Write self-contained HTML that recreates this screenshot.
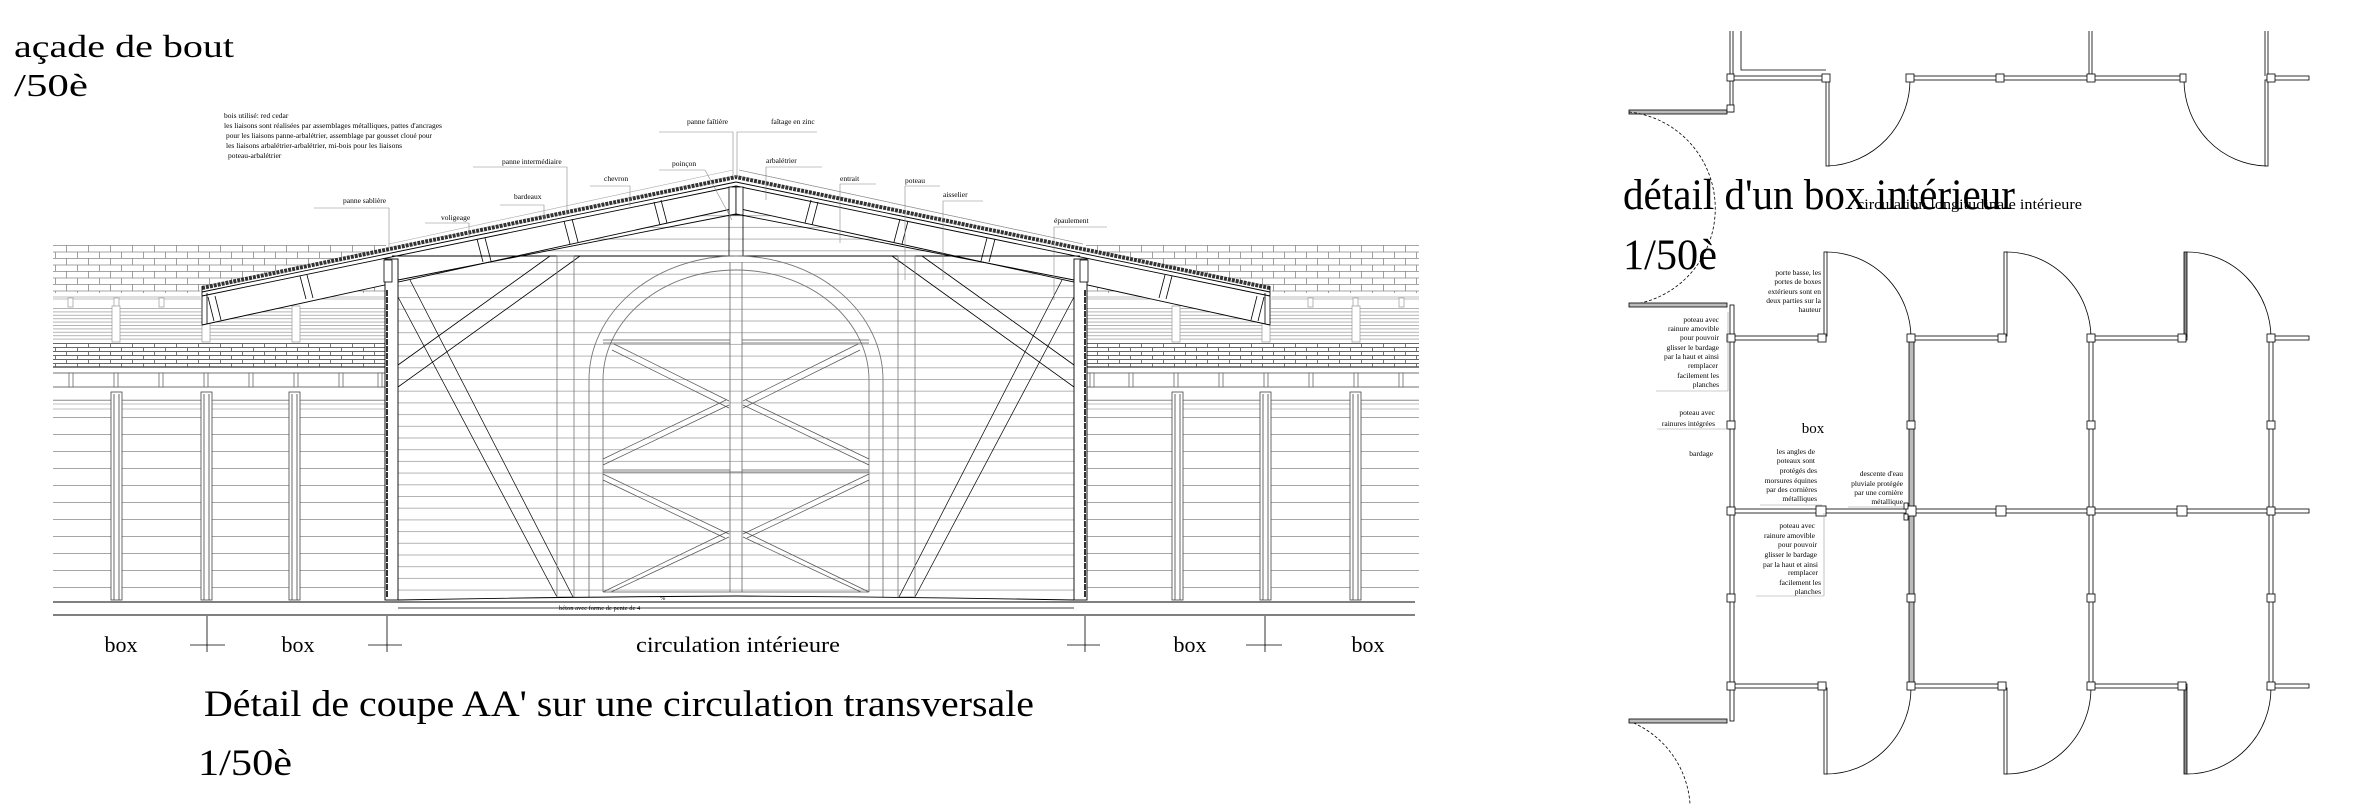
<!DOCTYPE html>
<html><head><meta charset="utf-8"><style>
html,body{margin:0;padding:0;background:#fff;}
svg{display:block;}
text{font-family:"Liberation Serif",serif;fill:#000;}
.t{font-size:7.5px;}
</style></head><body>
<svg width="2359" height="804" viewBox="0 0 2359 804" xmlns="http://www.w3.org/2000/svg">
<defs>
<pattern id="brick" width="22" height="13" patternUnits="userSpaceOnUse" y="245">
<path d="M0 0.5H22M0 7H22M0.5 0V7M11.5 7V13" stroke="#888" stroke-width="0.8" fill="none"/>
</pattern>
<pattern id="brick2" width="22" height="8" patternUnits="userSpaceOnUse" y="343">
<path d="M0 0.5H22M0 4.5H22M0.5 0V4.5M11.5 4.5V8" stroke="#666" stroke-width="0.9" fill="none"/>
</pattern>
<pattern id="sid" width="40" height="11.7" patternUnits="userSpaceOnUse" y="262">
<path d="M0 0.5H40" stroke="#999" stroke-width="0.8"/>
</pattern>
<pattern id="wall" width="40" height="17" patternUnits="userSpaceOnUse" y="400">
<path d="M0 0.5H40" stroke="#888" stroke-width="0.8"/>
</pattern>
<pattern id="band" width="40" height="3.4" patternUnits="userSpaceOnUse" y="308">
<path d="M0 0.5H40" stroke="#999" stroke-width="0.7"/>
</pattern>
<g id="half">
  <!-- side building -->
  <rect x="53" y="245" width="333" height="48" fill="url(#brick)"/>
  <path d="M53 297H386M53 299H386" stroke="#aaa" stroke-width="0.7"/>
  <g fill="#fff" stroke="#999" stroke-width="0.7">
    <rect x="68" y="298" width="5" height="9"/><rect x="114" y="298" width="5" height="9"/><rect x="159" y="298" width="5" height="9"/>
  </g>
  <rect x="53" y="308" width="333" height="34" fill="url(#band)"/>
  <g fill="#fff" stroke="#999" stroke-width="0.7">
    <rect x="112" y="306" width="8" height="36"/><rect x="202" y="306" width="8" height="36"/><rect x="292" y="306" width="8" height="36"/>
  </g>
  <rect x="53" y="343" width="333" height="24" fill="url(#brick2)"/>
  <path d="M53 367H386" stroke="#555" stroke-width="1.5"/>
  <path d="M53 373H386M53 387H386" stroke="#444" stroke-width="0.8"/>
  <g stroke="#555" stroke-width="0.7" fill="#fff">
    <rect x="69" y="373" width="4" height="14"/><rect x="114" y="373" width="4" height="14"/><rect x="159" y="373" width="4" height="14"/><rect x="204" y="373" width="4" height="14"/><rect x="249" y="373" width="4" height="14"/><rect x="294" y="373" width="4" height="14"/><rect x="339" y="373" width="4" height="14"/><rect x="378" y="373" width="4" height="14"/>
  </g>
  <rect x="53" y="396" width="333" height="204" fill="url(#wall)"/>
  <path d="M53 400H386M53 404H386M53 409H386" stroke="#aaa" stroke-width="0.7"/>
  <g fill="#fff" stroke="#444" stroke-width="0.8">
    <rect x="111" y="392" width="11" height="208"/><rect x="201" y="392" width="11" height="208"/><rect x="289" y="392" width="11" height="208"/>
  </g>
  <path d="M114 394V600M119 394V600M204 394V600M209 394V600M292 394V600M297 394V600" stroke="#444" stroke-width="0.8"/>
  <!-- gable siding -->
  <polygon points="398,280 736,208 736,600 398,600" fill="url(#sid)"/>
  <!-- roof -->
  <polygon points="200,287 736,175 736,208 202,325" fill="#fff" stroke="none"/>
  <path d="M202 288L736 177" stroke="#333" stroke-width="4" stroke-dasharray="3 1"/>
  <path d="M202 292L736 182" stroke="#000" stroke-width="0.9"/>
  <path d="M202 296L736 186" stroke="#000" stroke-width="0.9"/>
  <path d="M202 325L736 208" stroke="#000" stroke-width="0.9"/>
  <path d="M202 286V325M207 293V324" stroke="#000" stroke-width="0.8"/>
  <path d="M389 244L733 170" stroke="#aaa" stroke-width="0.6"/>
  <!-- chevrons -->
  <g stroke="#000" stroke-width="0.8" fill="none">
    <path d="M208 297L214 321M215 296L221 320"/>
    <path d="M300 276L306 299M307 275L313 298"/>
    <path d="M477 239L483 262M485 238L491 261"/>
    <path d="M564 221L570 244M572 219L578 242"/>
    <path d="M654 202L660 225M661 200L667 223"/>
  </g>
  <!-- poinçon -->
  <rect x="729" y="187" width="7" height="28" fill="#fff" stroke="#000" stroke-width="0.8"/>
  <path d="M729 215V256" stroke="#000" stroke-width="0.8"/>
  <!-- entrait -->
  <path d="M392 256H736M398 280L736 214" stroke="#000" stroke-width="0.9"/>
  <!-- main post -->
  <rect x="385" y="259" width="13" height="341" fill="#fff" stroke="#000" stroke-width="0.9"/>
  <rect x="384" y="260" width="8" height="22" fill="#fff" stroke="#000" stroke-width="0.8"/>
  <path d="M387 290V598" stroke="#000" stroke-width="1.6" stroke-dasharray="6 1"/>
  <!-- braces -->
  <path d="M398 365L550 256M398 387L580 256" stroke="#000" stroke-width="0.8"/>
  <path d="M398 297L557 597M410 280L573 597" stroke="#000" stroke-width="0.7"/>
  <rect x="557" y="256" width="17" height="341" fill="none" stroke="#777" stroke-width="0.8"/>
  <!-- arch -->
  <path d="M589 597V380A147 124 0 0 1 736 256" fill="none" stroke="#777" stroke-width="0.9"/>
  <path d="M603 592V380A133 110 0 0 1 736 270" fill="none" stroke="#777" stroke-width="0.9"/>
  <path d="M730 262V592" stroke="#777" stroke-width="0.9"/>
  <path d="M603 340H730M603 343H730M603 470H730M603 472H736M603 592H736" stroke="#555" stroke-width="0.8"/>
  <g stroke="#555" stroke-width="0.7">
    <path d="M614 344L729 401M612 350L729 408"/>
    <path d="M603 465L729 405M603 459L726 400"/>
    <path d="M603 474L729 534M603 480L725 538"/>
    <path d="M603 592L729 531M611 592L729 537"/>
  </g>
  <!-- slab -->
  <path d="M398 600Q560 597 736 596" fill="none" stroke="#000" stroke-width="0.9"/>
</g>
</defs>

<!-- titles -->
<text x="14" y="57" font-size="32" textLength="220" lengthAdjust="spacingAndGlyphs">açade de bout</text>
<text x="14" y="96" font-size="32" textLength="74" lengthAdjust="spacingAndGlyphs">/50è</text>

<use href="#half"/>
<use href="#half" transform="translate(1472,0) scale(-1,1)"/>

<!-- ground -->
<path d="M53 602H1415" stroke="#000" stroke-width="1"/>
<path d="M53 615H1415" stroke="#000" stroke-width="1"/>
<path d="M398 608H1074" stroke="#000" stroke-width="0.8"/>
<text x="559" y="610" font-size="6.5">béton avec forme de pente de 4</text>
<text x="660" y="600" font-size="6.5">%</text>

<!-- dimension ticks -->
<g stroke="#000" stroke-width="0.8">
  <path d="M207 616V652M190 645H225"/>
  <path d="M387 616V652M368 645H402"/>
  <path d="M1085 616V652M1067 645H1100"/>
  <path d="M1265 616V652M1246 645H1282"/>
</g>
<g font-size="22" text-anchor="middle">
  <text x="121" y="652">box</text>
  <text x="298" y="652">box</text>
  <text x="738" y="652" textLength="204" lengthAdjust="spacingAndGlyphs">circulation intérieure</text>
  <text x="1190" y="652">box</text>
  <text x="1368" y="652">box</text>
</g>
<text x="204" y="716" font-size="37" textLength="830" lengthAdjust="spacingAndGlyphs">Détail de coupe AA' sur une circulation transversale</text>
<text x="198" y="775" font-size="37" textLength="94" lengthAdjust="spacingAndGlyphs">1/50è</text>

<!-- notes -->
<g class="t">
  <text x="224" y="118">bois utilisé: red cedar</text>
  <text x="224" y="128" textLength="218" lengthAdjust="spacingAndGlyphs">les liaisons sont réalisées par assemblages métalliques, pattes d'ancrages</text>
  <text x="226" y="138" textLength="206" lengthAdjust="spacingAndGlyphs">pour les liaisons panne-arbalétrier, assemblage par gousset cloué pour</text>
  <text x="226" y="148" textLength="176" lengthAdjust="spacingAndGlyphs">les liaisons arbalétrier-arbalétrier, mi-bois pour les liaisons</text>
  <text x="228" y="158">poteau-arbalétrier</text>
  <text x="343" y="203">panne sablière</text>
  <text x="441" y="220">voligeage</text>
  <text x="514" y="199">bardeaux</text>
  <text x="604" y="181">chevron</text>
  <text x="502" y="164">panne intermédiaire</text>
  <text x="672" y="166">poinçon</text>
  <text x="687" y="124">panne faîtière</text>
  <text x="771" y="124">faîtage en zinc</text>
  <text x="766" y="163">arbalétrier</text>
  <text x="840" y="181">entrait</text>
  <text x="905" y="183">poteau</text>
  <text x="943" y="197">aisselier</text>
  <text x="1054" y="223">épaulement</text>
</g>
<g stroke="#888" stroke-width="0.6" fill="none">
  <path d="M314 208H389V247"/>
  <path d="M425 223H469V236"/>
  <path d="M500 205H544V223"/>
  <path d="M590 186H630V206"/>
  <path d="M473 167H567V215"/>
  <path d="M659 170H705L732 220"/>
  <path d="M659 132H733V175"/>
  <path d="M817 132H737V175"/>
  <path d="M822 167H766V200"/>
  <path d="M876 184H840V243"/>
  <path d="M940 186H905V280"/>
  <path d="M983 201H943V280"/>
  <path d="M1107 227H1054V300"/>
  <path d="M739 170L1083 244"/>
</g>

<!-- ============ RIGHT PLAN ============ -->
<g stroke="#000" stroke-width="0.8" fill="#fff">
  <!-- top part -->
  <path d="M1730 31V78M1733 31V78M1741 31V70H1826" fill="none"/>
  <rect x="1731" y="76" width="95" height="4"/>
  <rect x="1629" y="110" width="98" height="4" fill="#bbb"/>
  <rect x="1730" y="78" width="3" height="34"/>
  <rect x="1907" y="76" width="277" height="4"/>
  <path d="M2089 31V76M2092 31V76" fill="none"/>
  <rect x="2267" y="76" width="42" height="4"/>
  <path d="M2265 31V76M2268 31V76" fill="none"/>
  <rect x="1826" y="80" width="3" height="86"/>
  <rect x="2265" y="80" width="3" height="86"/>
  <path d="M1828 166A86 86 0 0 0 1910 80" fill="none"/>
  <path d="M2266 166A84 86 0 0 1 2184 80" fill="none"/>
  <rect x="1727" y="74" width="7" height="7"/><rect x="1822" y="74" width="8" height="8"/><rect x="1906" y="74" width="8" height="8"/>
  <rect x="1996" y="74" width="8" height="8"/><rect x="2087" y="74" width="8" height="8"/><rect x="2180" y="74" width="6" height="8"/>
  <rect x="2267" y="74" width="8" height="8"/><rect x="1727" y="105" width="7" height="7"/>
  <path d="M1629 112A96 97 0 0 1 1629 305" fill="none" stroke-dasharray="3 2"/>
  <path d="M1629 721A96 96 0 0 1 1690 804" fill="none" stroke-dasharray="3 2"/>

  <!-- lower grid -->
  <rect x="1629" y="303" width="98" height="4" fill="#bbb"/>
  <rect x="1629" y="719" width="98" height="4" fill="#bbb"/>
  <rect x="1730" y="305" width="4" height="416"/>
  <rect x="1909" y="338" width="5" height="348" fill="#bbb"/>
  <rect x="2089" y="338" width="4" height="348"/>
  <rect x="2269" y="338" width="4" height="348"/>
  <rect x="1731" y="336" width="95" height="4"/><rect x="1911" y="336" width="95" height="4"/><rect x="2091" y="336" width="96" height="4"/><rect x="2271" y="336" width="38" height="4"/>
  <rect x="1731" y="509" width="578" height="4"/>
  <rect x="1731" y="684" width="95" height="4"/><rect x="1911" y="684" width="95" height="4"/><rect x="2091" y="684" width="96" height="4"/><rect x="2271" y="684" width="38" height="4"/>
  <!-- doors top row -->
  <rect x="1824" y="252" width="3" height="84"/><rect x="2004" y="252" width="3" height="84"/><rect x="2184" y="252" width="3" height="84" fill="#888"/>
  <path d="M1826 252A85 86 0 0 1 1911 338M2006 252A85 86 0 0 1 2091 338M2187 252A84 86 0 0 1 2271 338" fill="none"/>
  <!-- doors bottom row -->
  <rect x="1824" y="688" width="3" height="86"/><rect x="2004" y="688" width="3" height="86"/><rect x="2184" y="688" width="3" height="86" fill="#888"/>
  <path d="M1826 774A85 86 0 0 0 1911 688M2006 774A85 86 0 0 0 2091 688M2187 774A84 86 0 0 0 2271 688" fill="none"/>
  <!-- posts -->
  <g>
    <rect x="1727" y="334" width="8" height="8"/><rect x="1727" y="421" width="8" height="8"/><rect x="1727" y="507" width="8" height="8"/><rect x="1727" y="594" width="8" height="8"/><rect x="1727" y="682" width="8" height="8"/>
    <rect x="1907" y="334" width="8" height="8"/><rect x="1907" y="421" width="8" height="8"/><rect x="1906" y="506" width="10" height="10"/><rect x="1907" y="594" width="8" height="8"/><rect x="1907" y="682" width="8" height="8"/>
    <rect x="2087" y="334" width="8" height="8"/><rect x="2087" y="421" width="8" height="8"/><rect x="2087" y="507" width="8" height="8"/><rect x="2087" y="594" width="8" height="8"/><rect x="2087" y="682" width="8" height="8"/>
    <rect x="2267" y="334" width="8" height="8"/><rect x="2267" y="421" width="8" height="8"/><rect x="2267" y="507" width="8" height="8"/><rect x="2267" y="594" width="8" height="8"/><rect x="2267" y="682" width="8" height="8"/>
    <rect x="1818" y="334" width="8" height="8"/><rect x="1998" y="334" width="8" height="8"/><rect x="2178" y="334" width="8" height="8"/>
    <rect x="1818" y="682" width="8" height="8"/><rect x="1998" y="682" width="8" height="8"/><rect x="2178" y="682" width="8" height="8"/>
    <rect x="1816" y="506" width="10" height="10"/><rect x="1996" y="506" width="10" height="10"/><rect x="2177" y="506" width="10" height="10"/>
    <rect x="1904" y="503" width="4" height="6"/><rect x="1904" y="514" width="4" height="6"/>
  </g>
</g>
<!-- plan annotations -->
<g stroke="#999" stroke-width="0.6" fill="none">
  <path d="M1656 391H1728V312"/>
  <path d="M1657 429H1728"/>
  <path d="M1760 505H1822"/>
  <path d="M1848 507H1904"/>
  <path d="M1756 596H1824V513"/>
</g>
<g class="t" text-anchor="end">
  <text x="1719" y="322">poteau avec</text>
  <text x="1719" y="331">rainure amovible</text>
  <text x="1719" y="340">pour pouvoir</text>
  <text x="1719" y="350">glisser le bardage</text>
  <text x="1719" y="359">par la haut et ainsi</text>
  <text x="1718" y="368">remplacer</text>
  <text x="1719" y="378">facilement les</text>
  <text x="1719" y="387">planches</text>
  <text x="1715" y="415">poteau avec</text>
  <text x="1715" y="426">rainures intégrées</text>
  <text x="1713" y="456">bardage</text>
  <text x="1821" y="275">porte basse, les</text>
  <text x="1821" y="284">portes de boxes</text>
  <text x="1821" y="294">extérieurs sont en</text>
  <text x="1821" y="303">deux parties sur la</text>
  <text x="1821" y="312">hauteur</text>
  <text x="1815" y="454">les angles de</text>
  <text x="1815" y="463">poteaux sont</text>
  <text x="1817" y="473">protégés des</text>
  <text x="1817" y="483">morsures équines</text>
  <text x="1817" y="492">par des cornières</text>
  <text x="1817" y="501">métalliques</text>
  <text x="1903" y="476">descente d'eau</text>
  <text x="1903" y="486">pluviale protégée</text>
  <text x="1903" y="495">par une cornière</text>
  <text x="1903" y="504">métallique</text>
  <text x="1815" y="528">poteau avec</text>
  <text x="1815" y="538">rainure amovible</text>
  <text x="1817" y="547">pour pouvoir</text>
  <text x="1817" y="557">glisser le bardage</text>
  <text x="1818" y="567">par la haut et ainsi</text>
  <text x="1818" y="575">remplacer</text>
  <text x="1821" y="585">facilement les</text>
  <text x="1821" y="594">planches</text>
</g>
<text x="1813" y="433" font-size="15" text-anchor="middle">box</text>
<text x="1857" y="209" font-size="15" textLength="225" lengthAdjust="spacingAndGlyphs">circulation longitudinale intérieure</text>
<text x="1623" y="209" font-size="43" textLength="392" lengthAdjust="spacingAndGlyphs">détail d'un box intérieur</text>
<text x="1623" y="269" font-size="43" textLength="94" lengthAdjust="spacingAndGlyphs">1/50è</text>
</svg>
</body></html>
